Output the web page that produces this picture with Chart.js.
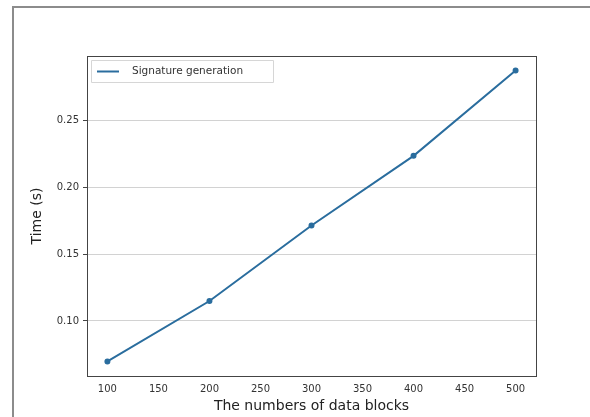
<!DOCTYPE html>
<html>
<head>
<meta charset="utf-8">
<script src="https://cdn.jsdelivr.net/npm/chart.js@4.4.0/dist/chart.umd.min.js"></script>
<style>
    html, body { margin: 0; padding: 0; background: #fff; }
    #wrap { position: relative; width: 590px; height: 417px; overflow: hidden; }
    #frame {
        position: absolute; left: 12px; top: 6px; right: -10px; bottom: -10px;
        border-left: 2px solid #8c8c8c; border-top: 2px solid #8c8c8c;
        pointer-events: none;
    }
    canvas { position: absolute; left: 0; top: 0; }
</style>
</head>
<body>
<div id="wrap">
    <canvas id="myChart" width="590" height="417"></canvas>
    <div id="frame"></div>
</div>
<script>
/* data */
const blocks = [100, 200, 300, 400, 500];
const sigTime = [0.0697, 0.1149, 0.1714, 0.2235, 0.2873];
const xTicks = [100, 150, 200, 250, 300, 350, 400, 450, 500];
const yTicks = [0.10, 0.15, 0.20, 0.25];
const seriesLabel = 'Signature generation';

const lineColor = '#2a6d9e';
const axisColor = '#444';
const textColor = '#333';

/* top + right spines and the legend box inside the plot */
const framePlugin = {
    id: 'framePlugin',
    afterDraw(chart) {
        const {ctx, chartArea: a} = chart;
        ctx.save();
        ctx.strokeStyle = axisColor;
        ctx.lineWidth = 1;
        ctx.strokeRect(a.left + 0.5, a.top + 0.5, a.right - a.left, a.bottom - a.top);

        // legend
        const bx = a.left + 4, by = a.top + 4, bw = 182, bh = 22;
        ctx.fillStyle = 'rgba(255,255,255,0.8)';
        ctx.strokeStyle = '#d6d6d6';
        ctx.beginPath();
        ctx.rect(bx + 0.5, by + 0.5, bw, bh);
        ctx.fill();
        ctx.stroke();
        ctx.strokeStyle = lineColor;
        ctx.lineWidth = 2;
        ctx.beginPath();
        ctx.moveTo(bx + 6, by + 11.5);
        ctx.lineTo(bx + 28, by + 11.5);
        ctx.stroke();
        ctx.fillStyle = textColor;
        ctx.font = '10.5px "DejaVu Sans"';
        ctx.textBaseline = 'middle';
        ctx.fillText(chart.data.datasets[0].label, bx + 41, by + 11.5);
        ctx.restore();
    }
};

const ctx = document.getElementById('myChart').getContext('2d');
new Chart(ctx, {
    type: 'scatter',
    data: {
        datasets: [{
            label: seriesLabel,
            data: blocks.map((b, i) => ({x: b, y: sigTime[i]})),
            showLine: true,
            borderColor: lineColor,
            backgroundColor: lineColor,
            borderWidth: 2,
            pointRadius: 2,
            pointHoverRadius: 2,
        }]
    },
    options: {
        responsive: false,
        animation: false,
        events: [],
        layout: { padding: { left: 0, right: 54, top: 56, bottom: 0 } },
        plugins: { legend: { display: false }, tooltip: { enabled: false } },
        scales: {
            x: {
                type: 'linear',
                min: 80, max: 520,
                afterBuildTicks: (s) => { s.ticks = xTicks.map(v => ({value: v})); },
                afterFit: (s) => { s.height = 41; },
                grid: { display: false, drawOnChartArea: false, drawTicks: true, tickLength: 4, tickColor: axisColor },
                border: { color: axisColor, width: 1 },
                ticks: { color: textColor, font: { family: 'DejaVu Sans', size: 10 }, padding: 3, maxRotation: 0 },
                title: {
                    display: true, text: 'The numbers of data blocks',
                    color: '#222', font: { family: 'DejaVu Sans', size: 14 }, padding: { top: 0, bottom: 2 }
                }
            },
            y: {
                type: 'linear',
                min: 0.0588, max: 0.2982,
                afterBuildTicks: (s) => { s.ticks = yTicks.map(v => ({value: v})); },
                afterFit: (s) => { s.width = 87; },
                grid: { color: '#d2d2d2', lineWidth: 1, tickLength: 4, tickColor: axisColor },
                border: { color: axisColor, width: 1 },
                ticks: {
                    color: textColor, font: { family: 'DejaVu Sans', size: 10 }, padding: 4,
                    callback: (v) => v.toFixed(2)
                },
                title: {
                    display: true, text: 'Time (s)',
                    color: '#222', font: { family: 'DejaVu Sans', size: 14 }, padding: { top: 29, bottom: 0 }
                }
            }
        }
    },
    plugins: [framePlugin]
});
</script>
</body>
</html>
